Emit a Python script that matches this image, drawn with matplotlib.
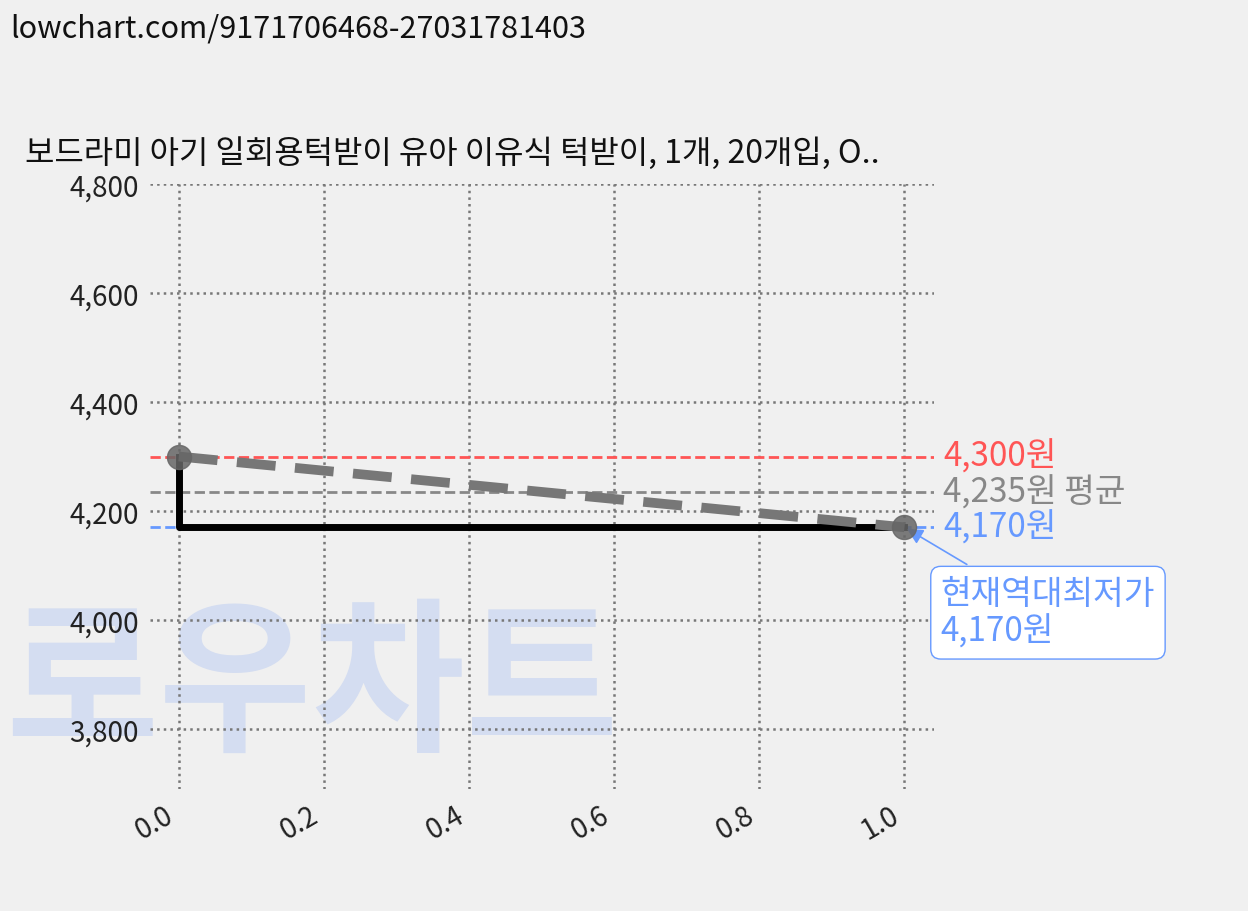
import matplotlib
matplotlib.use("Agg")
import matplotlib.pyplot as plt

plt.rcParams['font.family'] = ['Noto Sans CJK KR', 'DejaVu Sans']

x = [0.0, 1.0]
prices = [4300, 4170]
max_price = 4300
avg_price = 4235
min_price = 4170
title = "보드라미 아기 일회용턱받이 유아 이유식 턱받이, 1개, 20개입, O.."
header = "lowchart.com/9171706468-27031781403"
yticks = [3800, 4000, 4200, 4400, 4600, 4800]
xticks = [0.0, 0.2, 0.4, 0.6, 0.8, 1.0]

fig = plt.figure(figsize=(12.48, 9.12), dpi=100, facecolor='#f0f0f0')
fig.text(0.25, 0.245, "로우차트", fontsize=120, color='#d4ddf1', fontweight='black',
         ha='center', va='center', zorder=-5)
ax = fig.add_axes([0.12, 0.134, 0.628, 0.663])
ax.set_facecolor('none')

ax.set_xlim(-0.04, 1.04)
ax.set_ylim(3690, 4800)
ax.grid(True, linestyle=':', color='#777777', linewidth=1.8)
for s in ax.spines.values():
    s.set_visible(False)
ax.tick_params(length=0, labelsize=20, colors='#222222', pad=8)
ax.set_yticks(yticks)
ax.set_yticklabels([f"{v:,}" for v in yticks])
ax.set_xticks(xticks)
ax.set_xticklabels([f"{v:.1f}" for v in xticks], rotation=30, ha='right')

ax.axhline(max_price, color='#ff5555', linestyle='--', linewidth=2)
ax.axhline(avg_price, color='#888888', linestyle='--', linewidth=2)
ax.axhline(min_price, color='#6699ff', linestyle='--', linewidth=2)

ax.plot([x[0], x[0], x[1]], [prices[0], prices[1], prices[1]], color='black', linewidth=5, zorder=3)
ax.plot(x, prices, color='#777777', linestyle='--', linewidth=7, dashes=(4, 2), zorder=4)
ax.scatter(x, prices, s=300, color='#666666', alpha=0.85, zorder=5)

tr = ax.get_yaxis_transform()
ax.text(1.012, max_price, f"{max_price:,}원", color='#ff5555', fontsize=24, va='center', transform=tr)
ax.text(1.012, avg_price, f"{avg_price:,}원 평균", color='#888888', fontsize=24, va='center', transform=tr)
ax.text(1.012, min_price, f"{min_price:,}원", color='#6699ff', fontsize=24, va='center', transform=tr)

ax.annotate(f"현재역대최저가\n{min_price:,}원", xy=(1.0, min_price), xytext=(1.05, 4080),
            textcoords='data', fontsize=24, color='#6699ff', va='top', ha='left',
            linespacing=1.1,
            bbox=dict(boxstyle='round,pad=0.3', fc='white', ec='#6699ff'),
            arrowprops=dict(arrowstyle='-|>', color='#6699ff', lw=1.2), annotation_clip=False)

fig.text(0.008, 0.985, header, fontsize=22, color='#111111', va='top')
fig.text(0.02, 0.832, title, fontsize=23, color='#111111', va='center')

fig.savefig("out.png", dpi=100, facecolor=fig.get_facecolor())
